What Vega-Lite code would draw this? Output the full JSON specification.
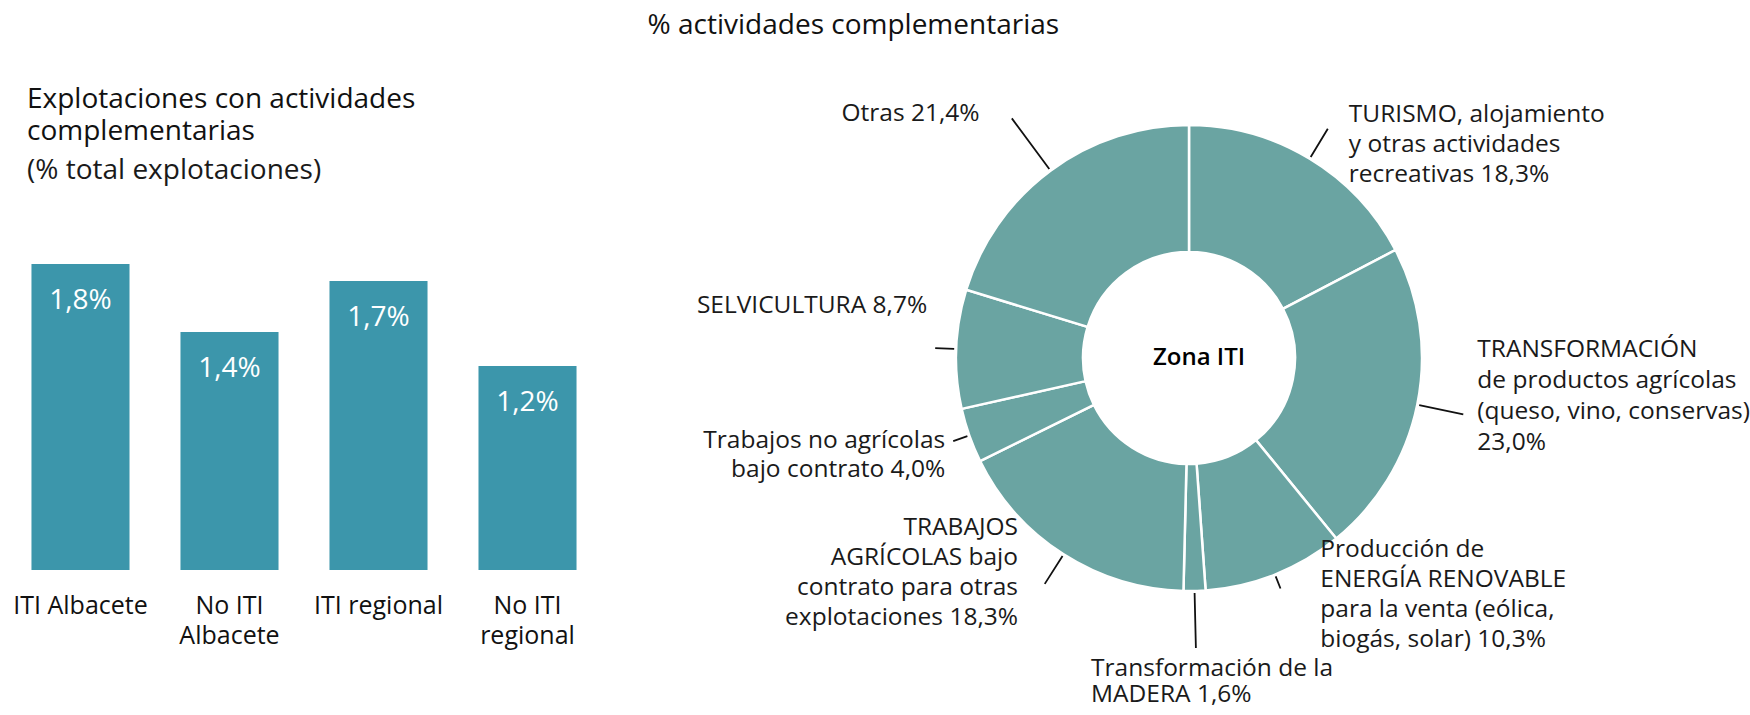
{
  "$schema": "https://vega.github.io/schema/vega-lite/v6.json",
  "background": "white",
  "padding": {"left": 12, "top": 12, "right": 0, "bottom": 0},
  "title": {"text": "% actividades complementarias", "fontSize": 28, "fontWeight": 500, "anchor": "middle", "dx": -28, "offset": 1, "color": "#111111"},
  "bounds": "flush",
  "spacing": 514,
  "datasets": {
    "bars": [
      {"zona": "ITI Albacete", "pct": 1.8, "etiqueta": "1,8%"},
      {"zona": "No ITI Albacete", "pct": 1.4, "etiqueta": "1,4%"},
      {"zona": "ITI regional", "pct": 1.7, "etiqueta": "1,7%"},
      {"zona": "No ITI regional", "pct": 1.2, "etiqueta": "1,2%"}
    ],
    "donut": [
      {"orden": 1, "cat": "TUR", "pct": 18.3, "label": "TURISMO, alojamiento\ny otras actividades\nrecreativas 18,3%"},
      {"orden": 2, "cat": "TRANSF", "pct": 23.0, "label": "TRANSFORMACIÓN\nde productos agrícolas\n(queso, vino, conservas)\n23,0%"},
      {"orden": 3, "cat": "ENER", "pct": 10.3, "label": "Producción de\nENERGÍA RENOVABLE\npara la venta (eólica,\nbiogás, solar) 10,3%"},
      {"orden": 4, "cat": "MAD", "pct": 1.6, "label": "Transformación de la\nMADERA 1,6%"},
      {"orden": 5, "cat": "TAGR", "pct": 18.3, "label": "TRABAJOS\nAGRÍCOLAS bajo\ncontrato para otras\nexplotaciones 18,3%"},
      {"orden": 6, "cat": "NOAGR", "pct": 4.0, "label": "Trabajos no agrícolas\nbajo contrato 4,0%"},
      {"orden": 7, "cat": "SELV", "pct": 8.7, "label": "SELVICULTURA 8,7%"},
      {"orden": 8, "cat": "OTRAS", "pct": 21.4, "label": "Otras 21,4%"}
    ],
    "centro": [{"t": "Zona ITI"}]
  },
  "hconcat": [
    {
      "width": 554,
      "height": 306,
      "data": {"name": "bars"},
      "title": {
        "text": ["Explotaciones con actividades", "complementarias"],
        "subtitle": "(% total explotaciones)",
        "anchor": "start",
        "frame": "group",
        "fontSize": 28,
        "fontWeight": "normal",
        "lineHeight": 32,
        "color": "#111111",
        "subtitleFontSize": 28,
        "subtitleColor": "#1a1a1a",
        "subtitlePadding": 11,
        "offset": 79
      },
      "encoding": {
        "x": {
          "field": "zona", "type": "nominal", "sort": null,
          "scale": {"paddingInner": 0.342, "paddingOuter": 0.03},
          "axis": {
            "title": null, "domain": false, "ticks": false, "labelAngle": 0,
            "labelFontSize": 25, "labelColor": "#111111", "labelPadding": 23, "labelLineHeight": 30,
            "labelExpr": "datum.label == 'No ITI Albacete' ? ['No ITI', 'Albacete'] : datum.label == 'No ITI regional' ? ['No ITI', 'regional'] : datum.label"
          }
        },
        "y": {"field": "pct", "type": "quantitative", "scale": {"domain": [0, 1.8]}, "axis": null}
      },
      "layer": [
        {"mark": {"type": "bar", "color": "#3c96ab"}},
        {"mark": {"type": "text", "baseline": "top", "dy": 23, "fontSize": 28, "color": "white"}, "encoding": {"text": {"field": "etiqueta", "type": "nominal"}}}
      ]
    },
    {
      "width": 188,
      "height": 188,
      "layer": [
        {"data": {"name": "donut"}, "mark": {"type": "arc", "innerRadius": 106, "outerRadius": 233, "color": "#6aa4a2", "stroke": "white", "strokeWidth": 2.5}, "encoding": {"theta": {"field": "pct", "type": "quantitative", "stack": true}, "order": {"field": "orden", "type": "quantitative"}}},
        {"data": {"name": "centro"}, "mark": {"type": "text", "fontSize": 24, "fontWeight": 600, "color": "#000000", "dx": 10, "dy": 0}, "encoding": {"text": {"field": "t", "type": "nominal"}}},

        {"data": {"name": "donut"}, "mark": {"type": "arc", "innerRadius": 235, "outerRadius": 268, "padAngle": 3.14, "fill": "transparent", "stroke": "#111111", "strokeWidth": 1.8}, "encoding": {"theta": {"field": "pct", "type": "quantitative", "stack": true}, "order": {"field": "orden", "type": "quantitative"}, "strokeOpacity": {"condition": {"test": "datum.cat === 'TUR'", "value": 1}, "value": 0}}},
        {"data": {"name": "donut"}, "mark": {"type": "arc", "innerRadius": 235, "outerRadius": 280, "padAngle": 3.14, "fill": "transparent", "stroke": "#111111", "strokeWidth": 1.8}, "encoding": {"theta": {"field": "pct", "type": "quantitative", "stack": true}, "order": {"field": "orden", "type": "quantitative"}, "strokeOpacity": {"condition": {"test": "datum.cat === 'TRANSF'", "value": 1}, "value": 0}}},
        {"data": {"name": "donut"}, "mark": {"type": "arc", "innerRadius": 235, "outerRadius": 248, "padAngle": 3.14, "fill": "transparent", "stroke": "#111111", "strokeWidth": 1.8}, "encoding": {"theta": {"field": "pct", "type": "quantitative", "stack": true}, "order": {"field": "orden", "type": "quantitative"}, "strokeOpacity": {"condition": {"test": "datum.cat === 'ENER'", "value": 1}, "value": 0}}},
        {"data": {"name": "donut"}, "mark": {"type": "arc", "innerRadius": 235, "outerRadius": 290, "padAngle": 3.14, "fill": "transparent", "stroke": "#111111", "strokeWidth": 1.8}, "encoding": {"theta": {"field": "pct", "type": "quantitative", "stack": true}, "order": {"field": "orden", "type": "quantitative"}, "strokeOpacity": {"condition": {"test": "datum.cat === 'MAD'", "value": 1}, "value": 0}}},
        {"data": {"name": "donut"}, "mark": {"type": "arc", "innerRadius": 235, "outerRadius": 268, "padAngle": 3.14, "fill": "transparent", "stroke": "#111111", "strokeWidth": 1.8}, "encoding": {"theta": {"field": "pct", "type": "quantitative", "stack": true}, "order": {"field": "orden", "type": "quantitative"}, "strokeOpacity": {"condition": {"test": "datum.cat === 'TAGR'", "value": 1}, "value": 0}}},
        {"data": {"name": "donut"}, "mark": {"type": "arc", "innerRadius": 235, "outerRadius": 250, "padAngle": 3.14, "fill": "transparent", "stroke": "#111111", "strokeWidth": 1.8}, "encoding": {"theta": {"field": "pct", "type": "quantitative", "stack": true}, "order": {"field": "orden", "type": "quantitative"}, "strokeOpacity": {"condition": {"test": "datum.cat === 'NOAGR'", "value": 1}, "value": 0}}},
        {"data": {"name": "donut"}, "mark": {"type": "arc", "innerRadius": 235, "outerRadius": 254, "padAngle": 3.14, "fill": "transparent", "stroke": "#111111", "strokeWidth": 1.8}, "encoding": {"theta": {"field": "pct", "type": "quantitative", "stack": true}, "order": {"field": "orden", "type": "quantitative"}, "strokeOpacity": {"condition": {"test": "datum.cat === 'SELV'", "value": 1}, "value": 0}}},
        {"data": {"name": "donut"}, "mark": {"type": "arc", "innerRadius": 235, "outerRadius": 298, "padAngle": 3.14, "fill": "transparent", "stroke": "#111111", "strokeWidth": 1.8}, "encoding": {"theta": {"field": "pct", "type": "quantitative", "stack": true}, "order": {"field": "orden", "type": "quantitative"}, "strokeOpacity": {"condition": {"test": "datum.cat === 'OTRAS'", "value": 1}, "value": 0}}},

        {"data": {"name": "donut"}, "mark": {"type": "text", "radius": 270, "align": "left", "baseline": "middle", "dx": 20, "dy": -12, "lineBreak": "\n", "fontSize": 24.5, "lineHeight": 30, "color": "#1a1a1a"}, "encoding": {"theta": {"field": "pct", "type": "quantitative", "stack": true}, "order": {"field": "orden", "type": "quantitative"}, "text": {"condition": {"test": "datum.cat === 'TUR'", "field": "label", "type": "nominal"}, "value": ""}}},
        {"data": {"name": "donut"}, "mark": {"type": "text", "radius": 280, "align": "left", "baseline": "middle", "dx": 14, "dy": -64, "lineBreak": "\n", "fontSize": 24.5, "lineHeight": 31, "color": "#1a1a1a"}, "encoding": {"theta": {"field": "pct", "type": "quantitative", "stack": true}, "order": {"field": "orden", "type": "quantitative"}, "text": {"condition": {"test": "datum.cat === 'TRANSF'", "field": "label", "type": "nominal"}, "value": ""}}},
        {"data": {"name": "donut"}, "mark": {"type": "text", "radius": 242, "align": "left", "baseline": "middle", "dx": 42, "dy": -33, "lineBreak": "\n", "fontSize": 24.5, "lineHeight": 30, "color": "#1a1a1a"}, "encoding": {"theta": {"field": "pct", "type": "quantitative", "stack": true}, "order": {"field": "orden", "type": "quantitative"}, "text": {"condition": {"test": "datum.cat === 'ENER'", "field": "label", "type": "nominal"}, "value": ""}}},
        {"data": {"name": "donut"}, "mark": {"type": "text", "radius": 297, "align": "left", "baseline": "middle", "dx": -105, "dy": 14, "lineBreak": "\n", "fontSize": 24.5, "lineHeight": 26, "color": "#1a1a1a"}, "encoding": {"theta": {"field": "pct", "type": "quantitative", "stack": true}, "order": {"field": "orden", "type": "quantitative"}, "text": {"condition": {"test": "datum.cat === 'MAD'", "field": "label", "type": "nominal"}, "value": ""}}},
        {"data": {"name": "donut"}, "mark": {"type": "text", "radius": 262, "align": "right", "baseline": "middle", "dx": -30, "dy": -51, "lineBreak": "\n", "fontSize": 24.5, "lineHeight": 30, "color": "#1a1a1a"}, "encoding": {"theta": {"field": "pct", "type": "quantitative", "stack": true}, "order": {"field": "orden", "type": "quantitative"}, "text": {"condition": {"test": "datum.cat === 'TAGR'", "field": "label", "type": "nominal"}, "value": ""}}},
        {"data": {"name": "donut"}, "mark": {"type": "text", "radius": 250, "align": "right", "baseline": "middle", "dx": -8, "dy": 0, "lineBreak": "\n", "fontSize": 24.5, "lineHeight": 29, "color": "#1a1a1a"}, "encoding": {"theta": {"field": "pct", "type": "quantitative", "stack": true}, "order": {"field": "orden", "type": "quantitative"}, "text": {"condition": {"test": "datum.cat === 'NOAGR'", "field": "label", "type": "nominal"}, "value": ""}}},
        {"data": {"name": "donut"}, "mark": {"type": "text", "radius": 254, "align": "right", "baseline": "middle", "dx": -8, "dy": -42, "lineBreak": "\n", "fontSize": 24.5, "lineHeight": 30, "color": "#1a1a1a"}, "encoding": {"theta": {"field": "pct", "type": "quantitative", "stack": true}, "order": {"field": "orden", "type": "quantitative"}, "text": {"condition": {"test": "datum.cat === 'SELV'", "field": "label", "type": "nominal"}, "value": ""}}},
        {"data": {"name": "donut"}, "mark": {"type": "text", "radius": 295, "align": "right", "baseline": "middle", "dx": -34, "dy": -7, "lineBreak": "\n", "fontSize": 24.5, "lineHeight": 30, "color": "#1a1a1a"}, "encoding": {"theta": {"field": "pct", "type": "quantitative", "stack": true}, "order": {"field": "orden", "type": "quantitative"}, "text": {"condition": {"test": "datum.cat === 'OTRAS'", "field": "label", "type": "nominal"}, "value": ""}}}
      ]
    }
  ],
  "config": {
    "view": {"stroke": null},
    "font": "Open Sans",
    "title": {"font": "Open Sans", "subtitleFont": "Open Sans"}
  }
}
